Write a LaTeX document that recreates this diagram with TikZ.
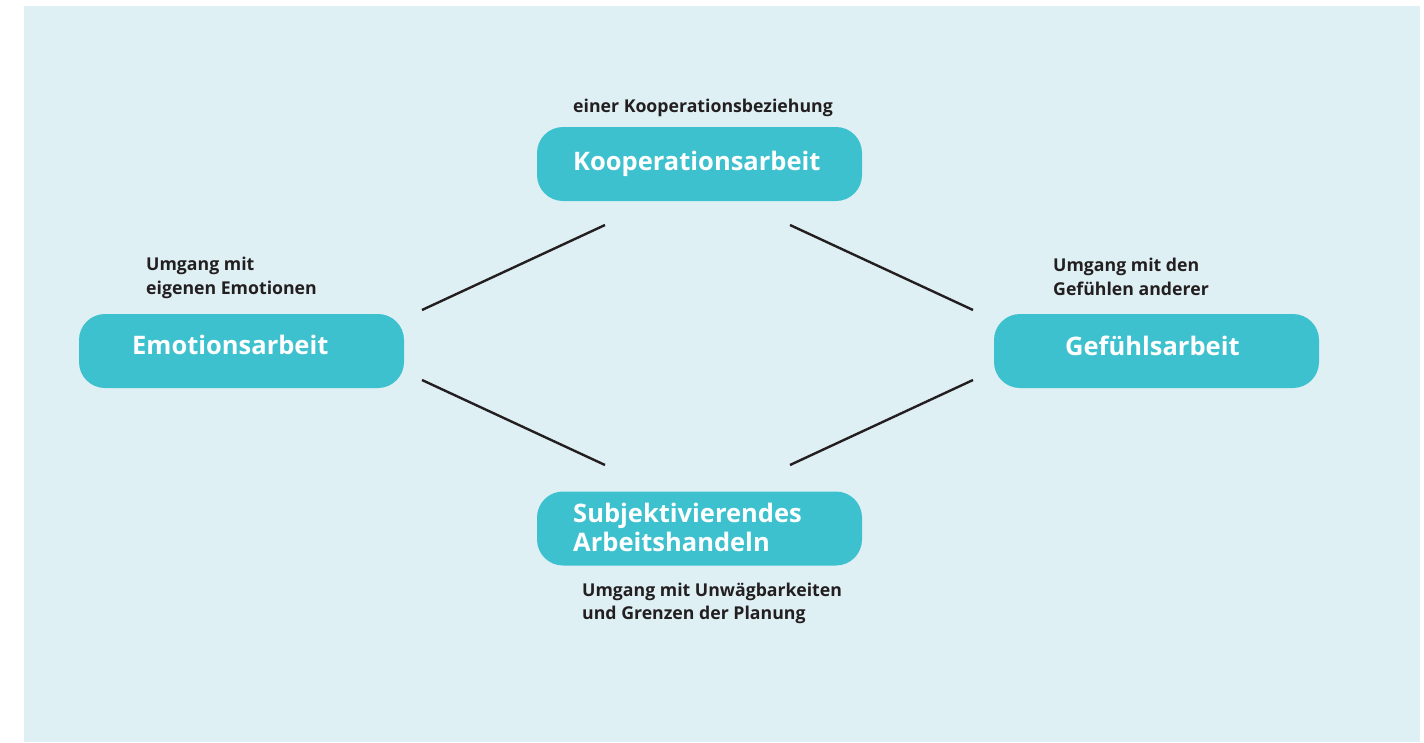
\documentclass[tikz,border=0pt]{standalone}
\usepackage{fontspec}
\setmainfont{Open Sans}
\definecolor{bgblue}{RGB}{223,240,245}
\definecolor{boxteal}{RGB}{61,193,206}
\definecolor{darktext}{RGB}{35,31,32}
\begin{document}
\begin{tikzpicture}[x=1pt,y=-1pt,
  box/.style={fill=boxteal,rounded corners=26pt,minimum width=325pt,minimum height=74pt,inner sep=0pt},
  boxlabel/.style={anchor=base west,inner sep=0pt,text=white,font=\fontsize{25.5}{28.7}\selectfont\bfseries,align=left},
  note/.style={anchor=base west,inner sep=0pt,text=darktext,font=\fontsize{17.7}{23.2}\selectfont\bfseries,align=left},
  link/.style={draw=darktext,line width=2.4pt}]
\useasboundingbox (0,0) rectangle (1424,742);
\fill[bgblue] (23.5,6) rectangle (1420,742);
% boxes
\node[box] (koop) at (699.5,164) {};
\node[box] (emo) at (241.5,351) {};
\node[box] (gef) at (1156.5,351) {};
\node[box] (subj) at (699.5,528.5) {};
% box texts (anchor = baseline of the last line)
\node[boxlabel] (kooptxt) at (573,170) {Kooperationsarbeit};
\node[boxlabel] (emotxt) at (132,354.5) {Emotionsarbeit};
\node[boxlabel] (geftxt) at (1065,355) {Gefühlsarbeit};
\node[boxlabel] (subjtxt) at (573,551) {Subjektivierendes\\Arbeitshandeln};
% notes
\node[note] (n1) at (573,112.7) {einer Kooperationsbeziehung};
\node[note] (n2) at (146,294) {Umgang mit\\eigenen Emotionen};
\node[note] (n3) at (1053,295) {Umgang mit den\\Gefühlen anderer};
\node[note] (n4) at (582,619.3) {Umgang mit Unwägbarkeiten\\und Grenzen der Planung};
% connectors
\coordinate (a1) at (422,310); \coordinate (a2) at (605,225);
\coordinate (b1) at (790,225); \coordinate (b2) at (973,310);
\coordinate (c1) at (422,380); \coordinate (c2) at (605,465);
\coordinate (d1) at (790,465); \coordinate (d2) at (973,380);
\draw[link] (a1) -- (a2);
\draw[link] (b1) -- (b2);
\draw[link] (c1) -- (c2);
\draw[link] (d1) -- (d2);
\end{tikzpicture}
\end{document}
